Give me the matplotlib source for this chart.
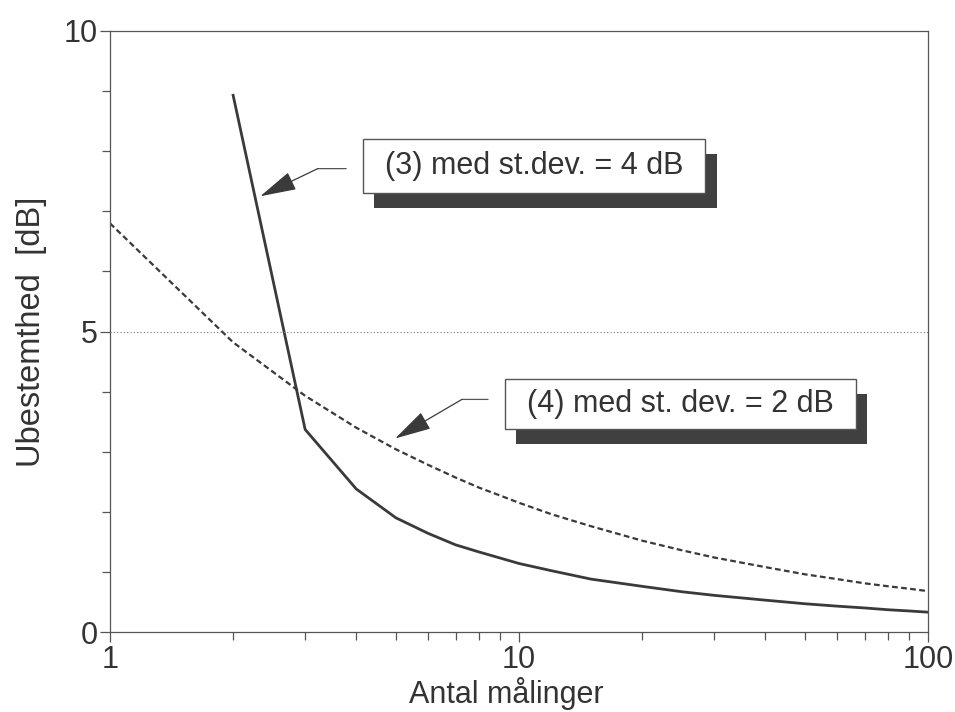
import matplotlib
matplotlib.use("Agg")
import matplotlib.pyplot as plt
import matplotlib.patheffects as pe
from matplotlib.ticker import NullFormatter

plt.rcParams['font.family'] = ['Liberation Sans', 'DejaVu Sans']

# values
n_solid = [2, 3, 4, 5, 6, 7, 8, 9, 10, 12, 15, 20, 25, 30, 40, 50, 60, 70, 80, 90, 100]
u_solid = [8.93, 3.37, 2.38, 1.90, 1.64, 1.45, 1.33, 1.23, 1.14, 1.02, 0.88, 0.76,
           0.67, 0.61, 0.53, 0.47, 0.43, 0.40, 0.37, 0.35, 0.33]

n_dashed = [1, 2, 3, 4, 5, 6, 7, 8, 9, 10, 12, 15, 20, 25, 30, 40, 50, 60, 70, 80, 90, 100]
u_dashed = [6.80, 4.82, 3.93, 3.40, 3.04, 2.78, 2.57, 2.40, 2.27, 2.15, 1.96, 1.76,
            1.52, 1.36, 1.24, 1.08, 0.96, 0.88, 0.81, 0.76, 0.72, 0.68]

limit_level = 5

x_ticks = [1, 10, 100]
x_ticklabels = ["1", "10", "100"]
y_ticks = [0, 5, 10]
y_ticklabels = ["0", "5", "10"]

label_solid = "(3) med st.dev. = 4 dB"
label_dashed = "(4) med st. dev. = 2 dB"

ink = "#3a3a3a"
frame = "#555555"

fig = plt.figure(figsize=(9.55, 7.12), dpi=100)
ax = fig.add_axes([110 / 955, 1 - 632 / 712, 818 / 955, 601 / 712])

ax.plot(n_solid, u_solid, color=ink, lw=2.0, solid_joinstyle="miter")
ax.plot(n_dashed, u_dashed, color=ink, lw=1.6, dashes=(2.6, 1.5))
ax.axhline(limit_level, color="#777777", lw=0.8, ls=(0, (1, 2)))

ax.set_xscale("log")
ax.set_xlim(1, 100)
ax.set_ylim(0, 10)

ax.set_xticks(x_ticks, labels=x_ticklabels)
ax.set_xticks([2, 3, 4, 5, 6, 7, 8, 9, 20, 30, 40, 50, 60, 70, 80, 90], minor=True)
ax.xaxis.set_minor_formatter(NullFormatter())
ax.set_yticks(y_ticks, labels=y_ticklabels)
ax.set_yticks(range(0, 11), minor=True)

ax.tick_params(which="both", direction="out", color=frame, width=0.9,
               labelsize=22, labelcolor="#333333")
ax.tick_params(axis="y", which="major", length=7.5, pad=1)
ax.tick_params(axis="y", which="minor", length=6)
ax.tick_params(axis="x", which="major", length=7, pad=2)
ax.tick_params(axis="x", which="minor", length=6)
for s in ax.spines.values():
    s.set_color(frame)
    s.set_linewidth(0.9)

ax.set_xlabel("Antal målinger", fontsize=22, color="#333333", labelpad=2, x=0.484)
ax.set_ylabel("Ubestemthed  [dB]", fontsize=23.5, color="#333333", labelpad=12)

# boxed labels with a drop shadow and a bent leader arrow
def boxed(x, y, text, vpad):
    t = ax.text(x, y, text, ha="center", va="center", fontsize=22, color="#333333",
                bbox=dict(boxstyle="square,pad=0.72", fc="white", ec=frame, lw=1,
                          mutation_aspect=vpad))
    t.get_bbox_patch().set_path_effects([
        pe.SimplePatchShadow(offset=(8, -10.5), shadow_rgbFace="#404040", alpha=1.0),
        pe.Normal()])

def leader(tip, kink, end):
    ax.annotate("", xy=kink, xytext=end,
                arrowprops=dict(arrowstyle="-", color=frame, lw=0.9,
                                shrinkA=0, shrinkB=0))
    ax.annotate("", xy=tip, xytext=kink,
                arrowprops=dict(arrowstyle="-|>,head_length=23,head_width=6",
                                mutation_scale=1, color=ink, lw=0.9,
                                shrinkA=0, shrinkB=0))

boxed(10.9, 7.75, label_solid, 0.55)
leader((2.33, 7.25), (3.22, 7.71), (3.78, 7.71))

boxed(24.8, 3.79, label_dashed, 0.45)
leader((4.98, 3.22), (7.25, 3.87), (8.40, 3.87))

fig.savefig("out.png", dpi=100)
